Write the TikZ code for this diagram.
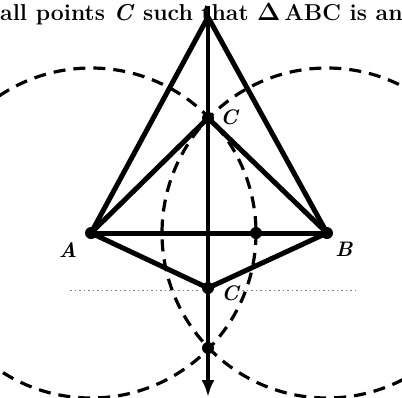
\documentclass[tikz,border=0pt]{standalone}
\usepackage{amsmath, amssymb}
\usetikzlibrary{arrows.meta}

\begin{document}
\begin{tikzpicture}[x=1pt, y=-1pt, font=\bfseries,
  seg/.style={line width=5pt, line cap=round, line join=round},
  arcline/.style={line width=3.2pt, dash pattern=on 12pt off 8pt},
  lbl/.style={font=\fontsize{21}{24}\selectfont\bfseries\itshape}]
\useasboundingbox (0,0) rectangle (402,397);
% ---- the points ----
\coordinate (A) at (91,233);
\coordinate (B) at (327,233);
\coordinate (T) at (208,17);
\coordinate (Cu) at (208,118);
\coordinate (Cl) at (208,288);
\coordinate (X) at (208,348);
\coordinate (D) at (256,233);
\coordinate (top) at (208,6);
\coordinate (tip) at (208,397);
% ---- circles round A and B ----
\begin{scope}
\clip (0,0) rectangle (402,397);
\draw[arcline] (A) circle (165);
\draw[arcline] (B) circle (165);
\end{scope}
% faint trace across
\coordinate (fl1) at (70,290);
\coordinate (fl2) at (198,290);
\coordinate (fr1) at (242,290);
\coordinate (fr2) at (356,290);
\draw[gray, line width=1pt, dash pattern=on 1.5pt off 3pt] (fl1) -- (fl2);
\draw[gray, line width=1pt, dash pattern=on 1.5pt off 3pt] (fr1) -- (fr2);
% ---- triangles ----
\draw[seg] (A) -- (B);
\draw[seg] (A) -- (T) -- (B);
\draw[seg] (A) -- (Cu) -- (B);
\draw[seg] (A) -- (Cl) -- (B);
% bisector
\draw[line width=3.5pt, -{Latex[length=17pt,width=13pt]}] (top) -- (tip);
\foreach \p in {A,B,Cu,Cl,X,D}
  \fill (\p) circle (6);
% ---- labels ----
\node[anchor=base west, inner sep=0pt, font=\fontsize{23}{27}\selectfont\bfseries] (title) at (0,20)
  {all points \textit{C} such that $\boldsymbol{\Delta}$\,ABC is an};
\node[lbl] (lA) at (68,250) {A};
\node[lbl] (lB) at (344,249) {B};
\node[lbl] (lCu) at (229,117) {C};
\node[lbl] (lCl) at (230,293) {C};
\end{tikzpicture}
\end{document}
